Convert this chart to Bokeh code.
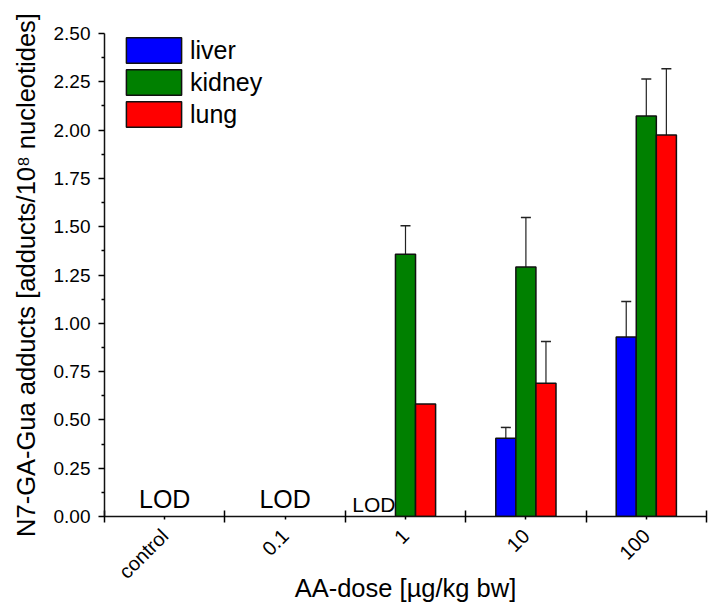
import math
from bokeh.plotting import figure
from bokeh.models import (ColumnDataSource, Range1d, FixedTicker, NumeralTickFormatter,
                          Whisker, TeeHead, Legend, LegendItem)
from bokeh.core.properties import value
from bokeh.embed import file_html
from bokeh.resources import INLINE

# ---------------- data ----------------
doses = ["control", "0.1", "1", "10", "100"]
tissues = ["liver", "kidney", "lung"]
colors = ["#0000FF", "#008000", "#FF0000"]

liver = [None, None, None, 0.405, 0.929]
liver_err = [None, None, None, 0.056, 0.184]
kidney = [None, None, 1.358, 1.291, 2.073]
kidney_err = [None, None, 0.147, 0.256, 0.192]
lung = [None, None, 0.582, 0.690, 1.975]
lung_err = [None, None, None, 0.216, 0.343]

lod_doses = ["control", "0.1", "1"]
y_ticks = [0.0, 0.25, 0.5, 0.75, 1.0, 1.25, 1.5, 1.75, 2.0, 2.25, 2.5]

x_title = "AA-dose [µg/kg bw]"
y_title = "N7-GA-Gua adducts [adducts/10⁸ nucleotides]"

FONT = "Liberation Sans"
BAR_W = 1.0 / 6.0

values = [liver, kidney, lung]
errors = [liver_err, kidney_err, lung_err]

p = figure(width=708, height=606, x_range=Range1d(0, len(doses)), y_range=Range1d(0, 2.5),
           output_backend="svg", toolbar_location=None,
           min_border_left=104, min_border_right=2, min_border_top=33, min_border_bottom=90)
p.outline_line_color = None
p.grid.visible = False
p.background_fill_color = "white"
p.border_fill_color = "white"

items = []
for k, (name, col, vals, errs) in enumerate(zip(tissues, colors, values, errors)):
    off = (k - 1) * BAR_W
    xs, tops = [], []
    ex, elo, ehi = [], [], []
    for i, (v, e) in enumerate(zip(vals, errs)):
        if v is None:
            continue
        xs.append(i + 0.5 + off)
        tops.append(v)
        if e is not None:
            ex.append(i + 0.5 + off)
            elo.append(v)
            ehi.append(v + e)
    src = ColumnDataSource(dict(x=xs, top=tops))
    r = p.vbar(x="x", top="top", bottom=0, width=BAR_W, source=src,
               fill_color=col, line_color="#111111", line_width=1.5)
    items.append(LegendItem(label=name, renderers=[r]))
    esrc = ColumnDataSource(dict(x=ex, lower=elo, upper=ehi))
    w = Whisker(base="x", lower="lower", upper="upper", source=esrc,
                line_color="#222222", line_width=1.2,
                upper_head=TeeHead(size=10, line_color="#222222", line_width=1.5),
                lower_head=None)
    p.add_layout(w)

# LOD markers
lod_x1 = [doses.index(d) + 0.5 for d in lod_doses[:2]]
p.text(x=lod_x1, y=[0.018] * len(lod_x1), text=["LOD"] * len(lod_x1),
       text_font=value(FONT), text_font_size="25px", text_align="center",
       text_baseline="bottom", text_color="black")
lod_x2 = [doses.index(d) + 0.5 - BAR_W / 2 for d in lod_doses[2:]]
p.text(x=lod_x2, y=[0.004] * len(lod_x2), text=["LOD"] * len(lod_x2),
       text_font=value(FONT), text_font_size="21px", text_align="right",
       text_baseline="bottom", text_color="black")

# legend
legend = Legend(items=items, location=(15, 386), glyph_width=69, glyph_height=32,
                label_text_font=FONT, label_text_font_size="25px", label_standoff=2,
                label_text_color="black",
                spacing=0, padding=0, margin=0, border_line_alpha=0,
                background_fill_alpha=0, label_height=26)
p.add_layout(legend)

# y axis
yax = p.yaxis[0]
yax.ticker = FixedTicker(ticks=y_ticks,
                         minor_ticks=[(a + b) / 2 for a, b in zip(y_ticks[:-1], y_ticks[1:])])
yax.formatter = NumeralTickFormatter(format="0.00")
yax.major_tick_out = 6
yax.major_tick_in = 0
yax.minor_tick_out = 3
yax.minor_tick_in = 0
yax.axis_line_width = 1.5
yax.major_tick_line_width = 1.5
yax.minor_tick_line_width = 1.5
yax.major_label_text_font = FONT
yax.major_label_text_font_size = "19px"
yax.major_label_text_color = "black"
yax.major_label_standoff = 8
yax.axis_line_color = "#111111"
yax.axis_label = y_title
yax.axis_label_text_font = FONT
yax.axis_label_text_font_size = "25.5px"
yax.axis_label_text_font_style = "normal"
yax.axis_label_text_color = "black"
yax.axis_label_standoff = 11

# x axis
xax = p.xaxis[0]
xax.ticker = FixedTicker(ticks=[i + 0.5 for i in range(len(doses))],
                         minor_ticks=list(range(len(doses) + 1)))
xax.major_label_overrides = {i + 0.5: d for i, d in enumerate(doses)}
xax.major_tick_out = 3
xax.major_tick_in = 0
xax.minor_tick_out = 6
xax.minor_tick_in = 6
xax.axis_line_width = 1.5
xax.major_tick_line_width = 1.5
xax.minor_tick_line_width = 1.5
xax.major_label_orientation = math.pi / 4
xax.major_label_text_font = FONT
xax.major_label_text_font_size = "20px"
xax.major_label_text_color = "black"
xax.major_label_standoff = 10
xax.axis_line_color = "#111111"
xax.axis_label = x_title
xax.axis_label_text_font = FONT
xax.axis_label_text_font_size = "25.5px"
xax.axis_label_text_font_style = "normal"
xax.axis_label_text_color = "black"
xax.axis_label_standoff = -20

open("out.html", "w").write(file_html(p, INLINE))
